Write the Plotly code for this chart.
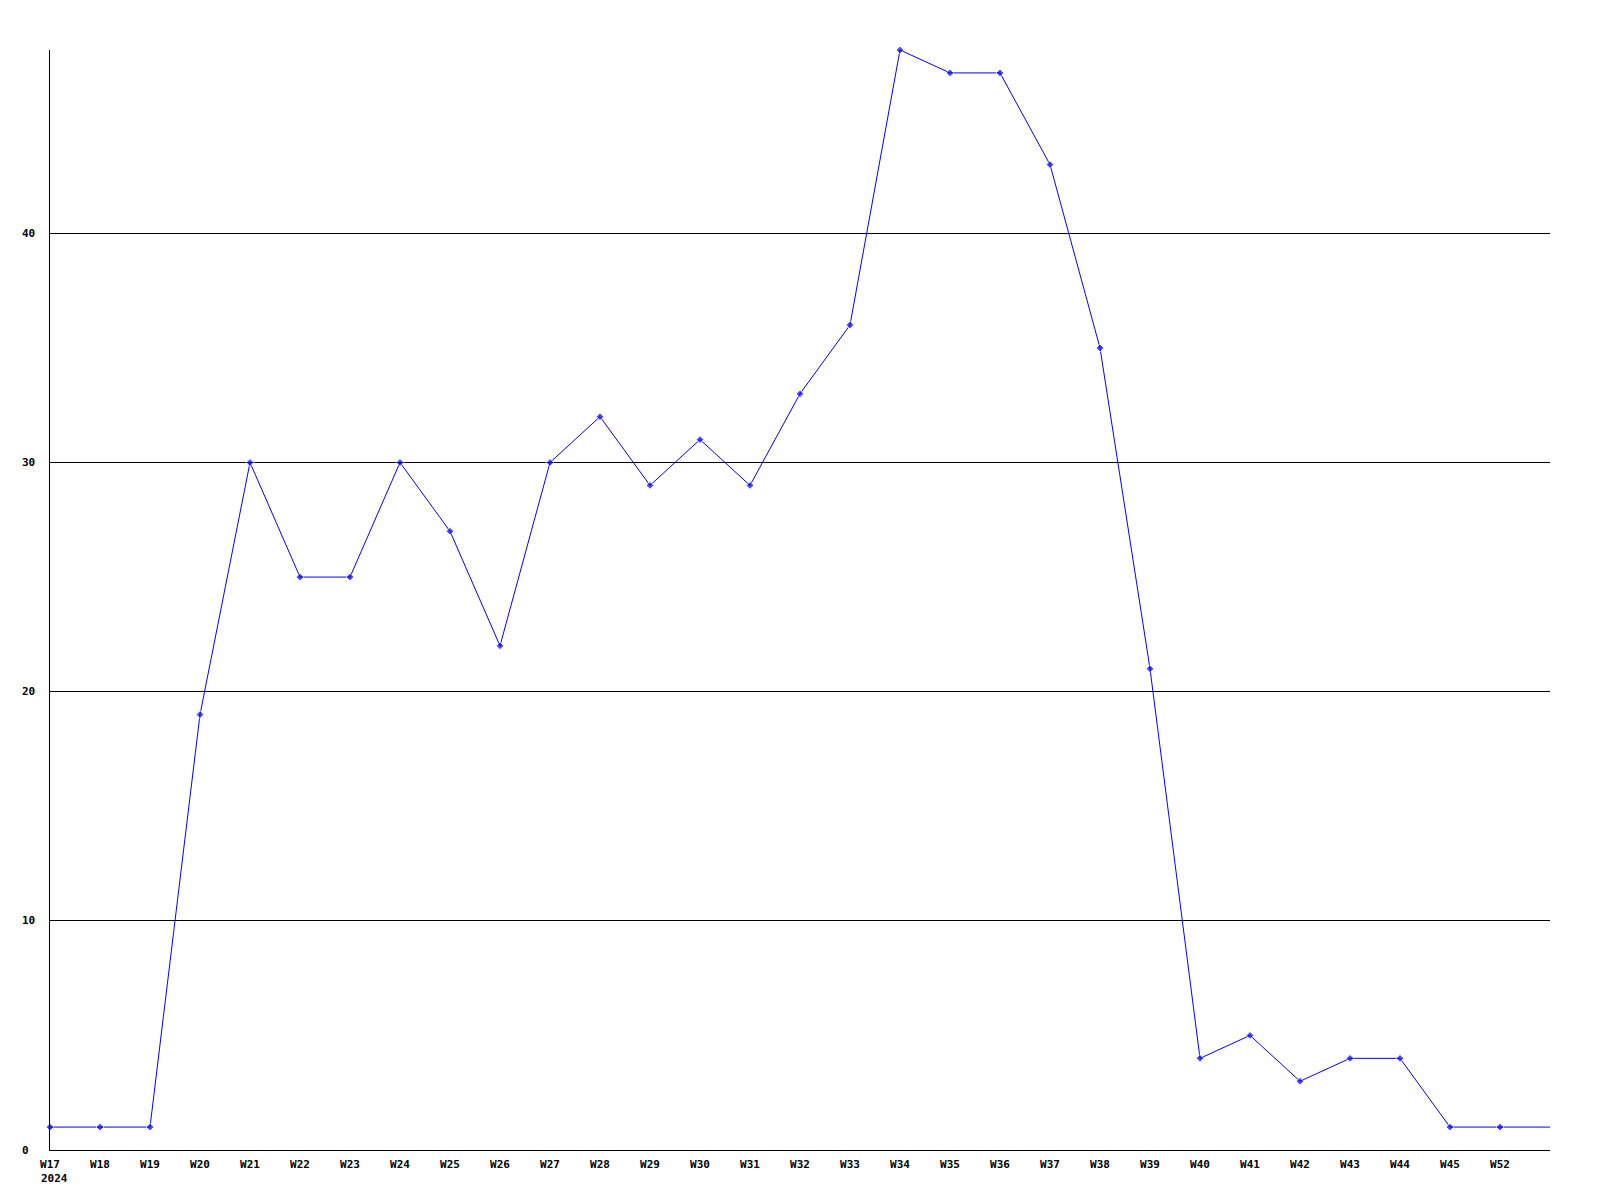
import plotly.graph_objects as go

weeks = ["W17", "W18", "W19", "W20", "W21", "W22", "W23", "W24", "W25", "W26",
         "W27", "W28", "W29", "W30", "W31", "W32", "W33", "W34", "W35", "W36",
         "W37", "W38", "W39", "W40", "W41", "W42", "W43", "W44", "W45", "W52", " "]
values = [1, 1, 1, 19, 30, 25, 25, 30, 27, 22,
          30, 32, 29, 31, 29, 33, 36, 48, 47, 47,
          43, 35, 21, 4, 5, 3, 4, 4, 1, 1, 1]
y_ticks = [0, 10, 20, 30, 40]
year_label = "2024"

marker_sizes = [6] * (len(weeks) - 1) + [0]

font = dict(family="DejaVu Sans Mono", size=11, color="black", weight="bold")

fig = go.Figure()
fig.add_trace(go.Scatter(
    x=weeks, y=values, mode="lines+markers",
    line=dict(color="#0000ff", width=1),
    marker=dict(symbol="diamond", size=marker_sizes, color="#0000ff"),
    showlegend=False, hoverinfo="x+y", cliponaxis=False,
))

fig.update_layout(
    width=1600, height=1200,
    margin=dict(l=42, r=58, t=42, b=58),
    paper_bgcolor="white", plot_bgcolor="white",
    font=font,
    xaxis=dict(
        type="category", categoryorder="array", categoryarray=weeks,
        range=[0, len(weeks) - 1],
        showgrid=False, zeroline=False,
        showline=True, linecolor="black", linewidth=1,
        ticks="", tickfont=font, ticklabelstandoff=4,
    ),
    yaxis=dict(
        range=[0, 48], tickvals=y_ticks,
        showgrid=True, gridcolor="black", gridwidth=1,
        zeroline=False,
        showline=True, linecolor="black", linewidth=1,
        ticks="", showticklabels=False,
    ),
)

for v in y_ticks:
    fig.add_annotation(
        x=0, y=v, xref="paper", yref="y", text=str(v),
        showarrow=False, xanchor="left", yanchor="middle",
        xshift=-30, font=font,
    )

fig.add_annotation(
    x=weeks[0], y=0, xref="x", yref="paper", text=year_label,
    showarrow=False, xanchor="left", yanchor="top",
    xshift=-11, yshift=-20, font=font,
)

fig.write_html("out.html")
